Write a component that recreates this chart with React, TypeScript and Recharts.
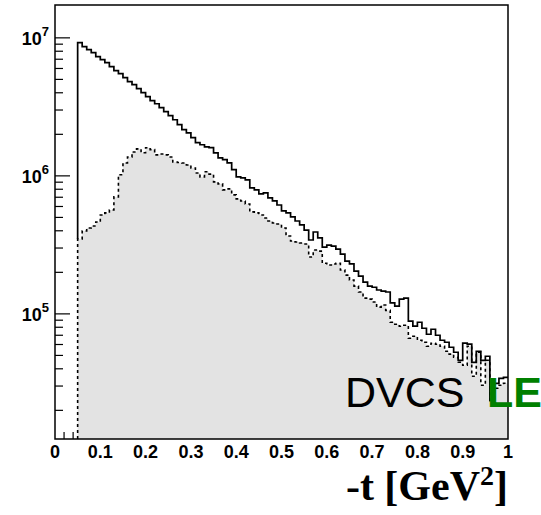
import {
  ComposedChart,
  Line,
  Area,
  XAxis,
  YAxis,
  ReferenceArea,
} from 'recharts'

// histogram binning (-t, GeV^2)
const BIN_START = 0.05
const BIN_WIDTH = 0.01

// all events, 0.05 .. 1.0
const TOTAL = [
  9.25e6, 8.65e6, 8.22e6, 7.82e6, 7.31e6, 6.96e6, 6.62e6, 6.19e6, 5.79e6, 5.5e6,
  5.15e6, 4.82e6, 4.58e6, 4.28e6, 4.01e6, 3.75e6, 3.51e6, 3.33e6, 3.12e6, 2.92e6,
  2.73e6, 2.55e6, 2.35e6, 2.16e6, 2.05e6, 1.89e6, 1.74e6, 1.68e6, 1.62e6, 1.6e6,
  1.47e6, 1.35e6, 1.31e6, 1.24e6, 1.11e6, 9.83e5, 9.67e5, 9.35e5, 8.18e5, 7.91e5,
  7.4e5, 7.52e5, 6.92e5, 6.58e5, 6.15e5, 5.57e5, 5.39e5, 5.04e5, 4.71e5, 4.41e5,
  4.05e5, 3.43e5, 3.92e5, 3.55e5, 3.05e5, 3.15e5, 3.1e5, 2.95e5, 2.71e5, 2.41e5,
  2.3e5, 2.04e5, 1.88e5, 1.7e5, 1.59e5, 1.56e5, 1.49e5, 1.46e5, 1.44e5, 1.2e5,
  1.14e5, 1.28e5, 1.3e5, 8.85e4, 8.14e4, 8.7e4, 7.87e4, 7.12e4, 7.74e4, 7.0e4,
  6.44e4, 6.23e4, 5.73e4, 5.27e4, 4.61e4, 6.13e4, 6.03e4, 4.46e4, 5.36e4, 4.61e4,
  4.93e4, 2.36e4, 3.14e4, 3.41e4, 3.47e4,
]

// DVCS part (shaded)
const DVCS = [
  3.49e5, 3.99e5, 4.19e5, 4.33e5, 4.63e5, 5.21e5, 5.39e5, 5.66e5, 7.04e5, 1.02e6,
  1.24e6, 1.37e6, 1.49e6, 1.57e6, 1.47e6, 1.6e6, 1.55e6, 1.42e6, 1.44e6, 1.42e6,
  1.37e6, 1.26e6, 1.25e6, 1.24e6, 1.2e6, 1.14e6, 1.05e6, 9.83e5, 1.07e6, 1.03e6,
  9.04e5, 8.75e5, 7.91e5, 8.05e5, 7.28e5, 6.81e5, 6.58e5, 6.26e5, 5.48e5, 5.39e5,
  5.21e5, 4.95e5, 4.71e5, 4.56e5, 4.48e5, 4.19e5, 3.67e5, 3.37e5, 3.32e5, 3.26e5,
  3.21e5, 2.58e5, 2.9e5, 2.85e5, 2.33e5, 2.26e5, 2.3e5, 2.33e5, 2.08e5, 1.91e5,
  1.76e5, 1.59e5, 1.44e5, 1.3e5, 1.28e5, 1.22e5, 1.12e5, 1.16e5, 1.06e5, 8.7e4,
  8.41e4, 8.14e4, 8.27e4, 6.66e4, 6.89e4, 6.44e4, 6.23e4, 5.83e4, 6.13e4, 6.03e4,
  5.83e4, 5.36e4, 5.11e4, 4.85e4, 4.46e4, 4.24e4, 5.83e4, 3.53e4, 5.27e4, 3.04e4,
  4.61e4, 2.28e4, 2.89e4, 3.04e4, 3.14e4,
]

const Y_MIN = 12400
const Y_MAX = 1.73e7

const X_MAJOR = [0, 0.1, 0.2, 0.3, 0.4, 0.5, 0.6, 0.7, 0.8, 0.9, 1]
const X_LABELS = ['0', '0.1', '0.2', '0.3', '0.4', '0.5', '0.6', '0.7', '0.8', '0.9', '1']
const Y_MAJOR = [1e5, 1e6, 1e7]
const Y_EXP = ['5', '6', '7']
const Y_MINOR = [
  2e4, 3e4, 4e4, 5e4, 6e4, 7e4, 8e4, 9e4,
  2e5, 3e5, 4e5, 5e5, 6e5, 7e5, 8e5, 9e5,
  2e6, 3e6, 4e6, 5e6, 6e6, 7e6, 8e6, 9e6,
]

// first row: left edge of the first bin (solid drops onto the shaded one, dashed to the floor)
const data = [
  { t: BIN_START, total: DVCS[0], dvcs: Y_MIN },
  ...TOTAL.map((v, i) => ({ t: BIN_START + i * BIN_WIDTH, total: v, dvcs: DVCS[i] })),
  { t: 1, total: TOTAL[TOTAL.length - 1], dvcs: DVCS[DVCS.length - 1] },
]

const xMinor: number[] = []
for (let i = 0; i < 10; i++) {
  for (let j = 1; j < 5; j++) xMinor.push(X_MAJOR[i] + j * 0.02)
}
const xTicks = [...X_MAJOR, ...xMinor].sort((a, b) => a - b)
const yTicks = [...Y_MINOR, ...Y_MAJOR].sort((a, b) => a - b)

const FONT = '"Liberation Sans", Arial, Helvetica, sans-serif'

function XTick(props: any) {
  const { x, y, payload } = props
  const idx = X_MAJOR.findIndex((m) => Math.abs(m - payload.value) < 1e-6)
  const major = idx >= 0
  // the shaded histogram is painted over the tick marks, so only the ones left of it show
  const showLine = payload.value > 0 && payload.value < BIN_START
  return (
    <g>
      {showLine && (
        <line x1={x} x2={x} y1={y} y2={y - (major ? 14 : 7)} stroke="#000" strokeWidth={1.2} />
      )}
      {major && (
        <text x={x} y={y + 19} textAnchor="middle" fontFamily={FONT} fontWeight="bold" fontSize={18} fill="#000">
          {X_LABELS[idx]}
        </text>
      )}
    </g>
  )
}

function YTick(props: any) {
  const { x, y, payload } = props
  const idx = Y_MAJOR.findIndex((m) => Math.abs(m - payload.value) / m < 1e-6)
  const major = idx >= 0
  return (
    <g>
      <line x1={x} x2={x + (major ? 15 : 8)} y1={y} y2={y} stroke="#000" strokeWidth={1.2} />
      {major && (
        <text x={x - 6} y={y + 7} textAnchor="end" fontFamily={FONT} fontWeight="bold" fontSize={18} fill="#000">
          <tspan>10</tspan>
          <tspan dy={-9} fontSize={13}>{Y_EXP[idx]}</tspan>
        </text>
      )}
    </g>
  )
}

export default function App() {
  return (
    <div style={{ position: 'absolute', left: 0, top: 0, width: 541, height: 515, background: '#fff' }}>
      <ComposedChart
        width={541}
        height={515}
        data={data}
        margin={{ top: 5, right: 33, bottom: 0, left: 0 }}
      >
        <XAxis
          dataKey="t"
          type="number"
          domain={[0, 1]}
          ticks={xTicks}
          interval={0}
          height={76}
          tickSize={0}
          tickMargin={0}
          tick={(p: any) => <XTick {...p} />}
          axisLine={false}
          allowDataOverflow
        />
        <YAxis
          type="number"
          scale="log"
          domain={[Y_MIN, Y_MAX]}
          ticks={yTicks}
          interval={0}
          width={55}
          tickSize={0}
          tickMargin={0}
          tick={(p: any) => <YTick {...p} />}
          axisLine={false}
          allowDataOverflow
        />
        <Line
          dataKey="total"
          type="stepAfter"
          stroke="#000"
          strokeWidth={1.7}
          dot={false}
          activeDot={false}
          isAnimationActive={false}
        />
        <Area
          dataKey="dvcs"
          type="stepAfter"
          baseValue={Y_MIN}
          fill="#e3e3e3"
          fillOpacity={1}
          stroke="#000"
          strokeWidth={1.6}
          strokeDasharray="3 3"
          dot={false}
          activeDot={false}
          isAnimationActive={false}
        />
        <ReferenceArea
          x1={0}
          x2={1}
          y1={Y_MIN}
          y2={Y_MAX}
          fill="none"
          stroke="#000"
          strokeWidth={1.5}
          ifOverflow="visible"
        />
      </ComposedChart>
      <svg width={541} height={515} style={{ position: 'absolute', left: 0, top: 0, pointerEvents: 'none' }}>
        <text x={345} y={407} fontFamily={FONT} fontSize={43} fill="#000">
          DVCS
        </text>
        <text x={487} y={407} fontFamily={FONT} fontWeight="bold" fontSize={43} fill="#008000">
          LE
        </text>
        <text
          x={508}
          y={500}
          textAnchor="end"
          fontFamily='"Liberation Serif", "Times New Roman", serif'
          fontWeight="bold"
          fontSize={42}
          fill="#000"
        >
          <tspan>-t [GeV</tspan>
          <tspan dy={-15} fontSize={28}>2</tspan>
          <tspan dy={15}>]</tspan>
        </text>
      </svg>
    </div>
  )
}
